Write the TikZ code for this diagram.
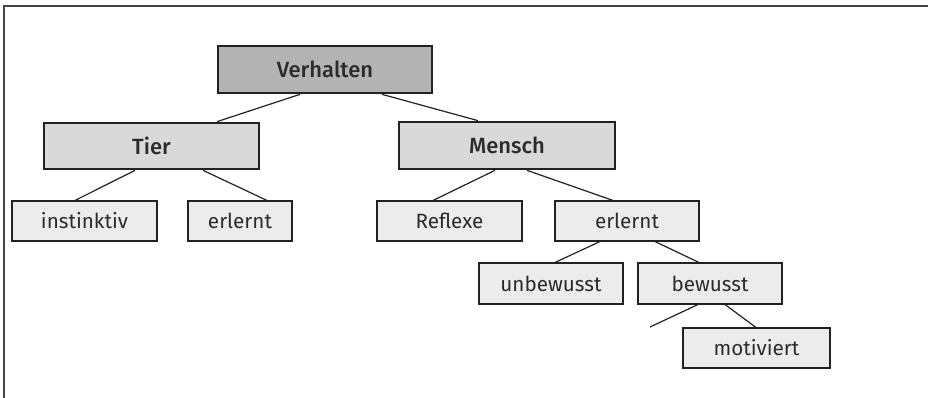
\documentclass[tikz,border=0pt]{standalone}
\usepackage{fontspec}
\setmainfont{Fira Sans}[BoldFont={Fira Sans Medium}]
\usetikzlibrary{calc}
\definecolor{txt}{HTML}{2B2B2B}
\definecolor{topfill}{HTML}{B3B3B3}
\definecolor{midfill}{HTML}{D9D9D9}
\definecolor{leaffill}{HTML}{ECECEC}
\definecolor{edgecol}{HTML}{222222}
\tikzset{
  topbox/.style={draw=edgecol, line width=2pt, fill=topfill, text=txt, inner sep=0pt, font=\fontsize{16.5}{19}\selectfont\bfseries},
  midbox/.style={draw=edgecol, line width=2pt, fill=midfill, text=txt, inner sep=0pt, font=\fontsize{16.5}{19}\selectfont\bfseries},
  leafbox/.style={draw=edgecol, line width=0.8pt, fill=leaffill, text=txt, inner sep=0pt, font=\fontsize{15.5}{18}\selectfont},
  conn/.style={draw=edgecol, line width=0.9pt},
}
\begin{document}
\begin{tikzpicture}[x=0.75pt, y=-0.75pt]
\useasboundingbox (0,0) rectangle (928,398);
\draw[draw=edgecol!85, line width=1.6pt] (4,398) -- (4,6) -- (928,6);

\node[topbox, minimum width=214*0.75pt, minimum height=47*0.75pt] (V) at (325,69.5) {Verhalten};
\node[midbox, minimum width=215*0.75pt, minimum height=46*0.75pt] (T) at (151.5,146) {Tier};
\node[midbox, minimum width=216*0.75pt, minimum height=47*0.75pt] (M) at (507,145.5) {Mensch};
\node[leafbox, minimum width=145*0.75pt, minimum height=40*0.75pt] (I) at (84.5,221) {instinktiv};
\node[leafbox, minimum width=104*0.75pt, minimum height=40*0.75pt] (E1) at (240,221) {erlernt};
\node[leafbox, minimum width=145*0.75pt, minimum height=40*0.75pt] (R) at (449.5,221) {Reflexe};
\node[leafbox, minimum width=144*0.75pt, minimum height=40*0.75pt] (E2) at (627,221) {erlernt};
\node[leafbox, minimum width=144*0.75pt, minimum height=41*0.75pt] (U) at (551,283.5) {unbewusst};
\node[leafbox, minimum width=144*0.75pt, minimum height=41*0.75pt] (B) at (710,283.5) {bewusst};
\node[leafbox, minimum width=147*0.75pt, minimum height=40*0.75pt] (Mo) at (756.5,348) {motiviert};
\coordinate (free) at (650,327);

\draw[conn] ($(V.south)+(-25,0)$) -- ($(T.north)+(65.5,0)$);
\draw[conn] ($(V.south)+(57,0)$) -- ($(M.north)+(-29,0)$);
\draw[conn] ($(T.south)+(-16.5,0)$) -- ($(I.north)+(-9.5,0)$);
\draw[conn] ($(T.south)+(51.5,0)$) -- ($(E1.north)+(27,0)$);
\draw[conn] ($(M.south)+(-12,0)$) -- ($(R.north)+(-16.5,0)$);
\draw[conn] ($(M.south)+(20,0)$) -- ($(E2.north)+(-14,0)$);
\draw[conn] ($(E2.south)+(-27,0)$) -- ($(U.north)+(4,0)$);
\draw[conn] ($(E2.south)+(28,0)$) -- ($(B.north)+(-11,0)$);
\draw[conn] ($(B.south)+(-12,0)$) -- (free);
\draw[conn] ($(B.south)+(15,0)$) -- ($(Mo.north)+(-0.5,0)$);
\end{tikzpicture}
\end{document}
